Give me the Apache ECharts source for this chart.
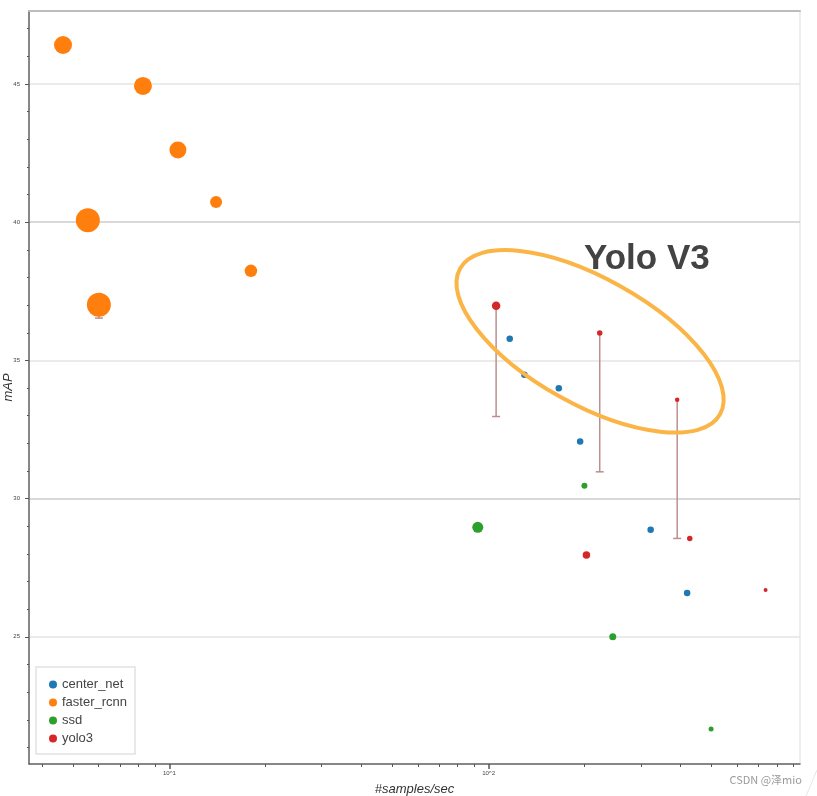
<!DOCTYPE html>
<html><head><meta charset="utf-8">
<script src="https://cdn.jsdelivr.net/npm/echarts@6/dist/echarts.min.js"></script>
<style>html,body{margin:0;padding:0;background:#fff}#c{width:817px;height:796px}</style>
</head><body><div id="c"></div>
<script>
// ---- data ----
const seriesNames = ['center_net', 'faster_rcnn', 'ssd', 'yolo3'];
const centerNetX = [116.5, 129.5, 166, 193.6, 322, 419];
const centerNetY = [35.78, 34.48, 33.99, 32.07, 28.87, 26.59];
const centerNetMarker = [6.5, 6.5, 6.5, 6.5, 6.5, 6.5];
const fasterX = [4.64, 8.26, 10.63, 14.0, 5.55, 18.0, 6.01];
const fasterY = [46.41, 44.93, 42.61, 40.73, 40.07, 38.24, 37.01];
const fasterMarker = [18, 18, 17, 12, 24, 12.5, 24];
const fasterErrLow = [null, null, null, null, null, null, 36.53];
const ssdX = [92.5, 199.7, 245, 498];
const ssdY = [28.96, 30.47, 25.0, 21.67];
const ssdMarker = [11, 6, 7, 5];
const yolo3X = [105.6, 223, 390, 202.6, 427, 738];
const yolo3Y = [36.98, 35.99, 33.58, 27.96, 28.56, 26.69];
const yolo3Marker = [8.5, 5.5, 4.5, 7.5, 5.5, 4];
const yolo3ErrLow = [32.97, 30.97, 28.56, null, null, null];
const xMajorTicks = [10, 100];
const xMinorTicks = [4, 5, 6, 7, 8, 9, 20, 30, 40, 50, 60, 70, 80, 90, 200, 300, 400, 500, 600, 700, 800, 900];
const yMajorTicks = [25, 30, 35, 40, 45];
const yMinorTicks = [21, 22, 23, 24, 26, 27, 28, 29, 31, 32, 33, 34, 36, 37, 38, 39, 41, 42, 43, 44, 46, 47];
const xTitle = '#samples/sec';
const yTitle = 'mAP';
const annotationText = 'Yolo V3';
const watermarkText = 'CSDN @泽mio';

// ---- build ----
const colors = ['#1f77b4', '#ff7f0e', '#2ca02c', '#d62728'];
const FONT = '"Liberation Sans", Arial, sans-serif';
const X_MIN = 3.63, X_MAX = 946, Y_MIN = 20.4, Y_MAX = 47.64;

function pts(xs, ys, ms) { return xs.map((x, i) => [x, ys[i], ms[i]]); }
function errPts(xs, ys, lows) {
  const out = [];
  xs.forEach((x, i) => { if (lows[i] != null) out.push([x, ys[i], lows[i]]); });
  return out;
}
const errData = errPts(fasterX, fasterY, fasterErrLow).concat(errPts(yolo3X, yolo3Y, yolo3ErrLow));

const chart = echarts.init(document.getElementById('c'), null, { renderer: 'canvas' });

const baseX = { type: 'log', logBase: 10, min: X_MIN, max: X_MAX, gridIndex: 0 };
const baseY = { type: 'value', min: Y_MIN, max: Y_MAX, gridIndex: 0 };

function scatter(name, data, color) {
  return {
    name, type: 'scatter', data, z: 3,
    symbolSize: v => v[2],
    itemStyle: { color, opacity: 1 },
    emphasis: { disabled: true }
  };
}

const option = {
  animation: false,
  textStyle: { fontFamily: FONT },
  grid: { left: 29, right: 17, top: 11, bottom: 32, containLabel: false, outerBoundsMode: 'none',
    show: true, borderColor: '#dcdcdc', borderWidth: 1, backgroundColor: 'transparent' },
  legend: {
    data: seriesNames, orient: 'vertical', left: 36, top: 667,
    icon: 'circle', itemWidth: 8, itemHeight: 8, itemGap: 5,
    padding: [11, 8, 9, 13], borderColor: '#e2e2e2', borderWidth: 1.5, backgroundColor: '#fff',
    textStyle: { fontSize: 13, color: '#444', fontFamily: FONT, lineHeight: 13 },
    selectedMode: false
  },
  xAxis: [
    Object.assign({}, baseX, {
      position: 'bottom',
      name: xTitle, nameLocation: 'middle', nameGap: 19,
      nameTextStyle: { fontSize: 13, fontStyle: 'italic', color: '#333', fontFamily: FONT },
      axisLine: { lineStyle: { color: '#666', width: 1.5 } },
      axisTick: { customValues: xMajorTicks, length: 5, lineStyle: { color: '#555', width: 1.5 } },
      axisLabel: { customValues: xMajorTicks, fontSize: 6, color: '#444', margin: 6,
        formatter: v => '10^' + Math.round(Math.log10(v)) },
      splitLine: { show: false }, minorTick: { show: false }
    }),
    Object.assign({}, baseX, {
      position: 'bottom',
      axisLine: { show: false },
      axisTick: { customValues: xMinorTicks, length: 3, lineStyle: { color: '#555', width: 1 } },
      axisLabel: { show: false }, splitLine: { show: false }
    }),
    Object.assign({}, baseX, {
      position: 'top',
      axisLine: { lineStyle: { color: '#bdbdbd', width: 2 } },
      axisTick: { show: false }, axisLabel: { show: false }, splitLine: { show: false }
    })
  ],
  yAxis: [
    Object.assign({}, baseY, {
      position: 'left',
      axisLine: { show: true, lineStyle: { color: '#666', width: 1.5 } },
      axisTick: { show: true, customValues: yMajorTicks, length: 4, lineStyle: { color: '#555', width: 1 } },
      axisLabel: { customValues: yMajorTicks, fontSize: 6, color: '#444', margin: 9 },
      splitLine: { show: true, lineStyle: { color: ['#e4e4e4', '#cdcdcd'], width: 1.5 } }
    }),
    Object.assign({}, baseY, {
      position: 'left',
      axisLine: { show: false },
      axisTick: { show: true, customValues: yMinorTicks, length: 2, lineStyle: { color: '#555', width: 1 } },
      axisLabel: { show: false }, splitLine: { show: false }
    })
  ],
  series: [
    {
      name: 'errorbars', type: 'custom', data: errData, z: 2, silent: true,
      encode: { x: 0, y: [1, 2] },
      renderItem: function (params, api) {
        const top = api.coord([api.value(0), api.value(1)]);
        const bot = api.coord([api.value(0), api.value(2)]);
        const st = { stroke: '#bc8f8f', lineWidth: 1.5 };
        return {
          type: 'group', children: [
            { type: 'line', shape: { x1: top[0], y1: top[1], x2: bot[0], y2: bot[1] }, style: st },
            { type: 'line', shape: { x1: bot[0] - 4, y1: bot[1], x2: bot[0] + 4, y2: bot[1] }, style: st }
          ]
        };
      }
    },
    scatter(seriesNames[0], pts(centerNetX, centerNetY, centerNetMarker), colors[0]),
    scatter(seriesNames[1], pts(fasterX, fasterY, fasterMarker), colors[1]),
    scatter(seriesNames[2], pts(ssdX, ssdY, ssdMarker), colors[2]),
    scatter(seriesNames[3], pts(yolo3X, yolo3Y, yolo3Marker), colors[3])
  ]
};
chart.setOption(option);

// annotation (ellipse + label) anchored in data space
const ellC = chart.convertToPixel({ xAxisIndex: 0, yAxisIndex: 0 }, [208, 35.69]);
const txtA = chart.convertToPixel({ xAxisIndex: 0, yAxisIndex: 0 }, [199, 38.66]);
const yMid = chart.convertToPixel({ yAxisIndex: 0 }, (Y_MIN + Y_MAX) / 2);
chart.setOption({
  graphic: [
    {
      type: 'ellipse', x: ellC[0], y: ellC[1], rotation: -0.511, z: 10, silent: true,
      shape: { cx: 0, cy: 0, rx: 149, ry: 63 },
      style: { fill: 'none', stroke: '#fbb446', lineWidth: 4 }
    },
    {
      type: 'text', x: txtA[0], y: txtA[1], z: 11, silent: true,
      style: { text: annotationText, font: 'bold 35px "Liberation Sans", Arial, sans-serif', fill: '#434343', align: 'left', verticalAlign: 'middle' }
    },
    {
      type: 'text', x: 8, y: yMid, rotation: Math.PI / 2, z: 11, silent: true,
      style: { text: yTitle, font: 'italic 13px "Liberation Sans", Arial, sans-serif', fill: '#333', align: 'center', verticalAlign: 'middle' }
    },
    {
      type: 'text', right: 15, top: 774, silent: true,
      style: { text: watermarkText, font: '11px "Noto Sans CJK SC", "Liberation Sans", sans-serif', fill: '#9a9a9a' }
    },
    {
      type: 'line', silent: true,
      shape: { x1: 806, y1: 796, x2: 817, y2: 770 },
      style: { stroke: '#e6e6e6', lineWidth: 1 }
    }
  ]
});
</script>
</body></html>
